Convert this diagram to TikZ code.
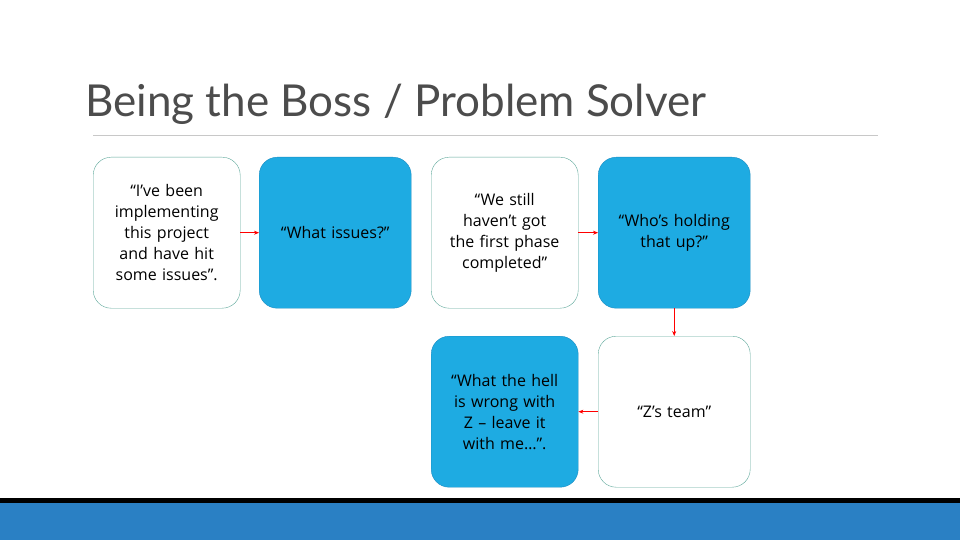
\documentclass[tikz,border=0pt]{standalone}
\usepackage{fontspec}
\setmainfont{Open Sans}
\newfontfamily\titlefont{Lato}
\usetikzlibrary{arrows.meta}
\definecolor{cy}{HTML}{1EABE2}
\definecolor{cyb}{HTML}{1B8CC2}
\definecolor{gb}{HTML}{5EA89B}
\definecolor{band}{HTML}{2A80C4}
\definecolor{thin}{HTML}{1FA5DF}
\definecolor{rl}{HTML}{C8C8C8}
\begin{document}
\begin{tikzpicture}[x=1pt,y=-1pt,
  wbox/.style={draw=gb,fill=white,rounded corners=18pt,minimum width=147pt,minimum height=151pt,text width=125pt,align=center,font=\fontsize{16}{21}\selectfont,anchor=north west,inner sep=0pt},
  bbox/.style={wbox,draw=cyb,fill=cy},
  arr/.style={draw=red,-{Stealth[length=5pt,width=4pt]},line width=0.6pt}]
\useasboundingbox (0,0) rectangle (960,540);
\fill[white] (0,0) rectangle (960,540);
\node[anchor=base west,inner sep=0pt,font=\titlefont\fontsize{44}{48}\selectfont,text=black!70] (title) at (85,117) {Being the Boss / Problem Solver};
\draw[rl,line width=1pt] (93,136) coordinate (la) -- (878,136) coordinate (lb);
\node[wbox] (b1) at (93,157) {“I’ve been implementing this project and have hit some issues”.};
\node[bbox,minimum width=152pt] (b2) at (259,157) {“What issues?”};
\node[wbox] (b3) at (431,157) {“We still haven’t got the first phase completed”};
\node[bbox,minimum width=152pt] (b4) at (598,157) {“Who’s holding that up?”};
\node[wbox,minimum width=152pt] (b5) at (598,336) {“Z’s team”};
\node[bbox] (b6) at (431,336) {“What the hell is wrong with Z – leave it with me…”.};
\draw[arr] (b1.east) -- (b2.west);
\draw[arr] (b3.east) -- (b4.west);
\draw[arr] (b4.south) -- (b5.north);
\draw[arr] (b5.west) -- (b6.east);
\fill[thin] (0,498) rectangle (960,503);
\fill[band] (0,503) rectangle (960,540);
\end{tikzpicture}
\end{document}
